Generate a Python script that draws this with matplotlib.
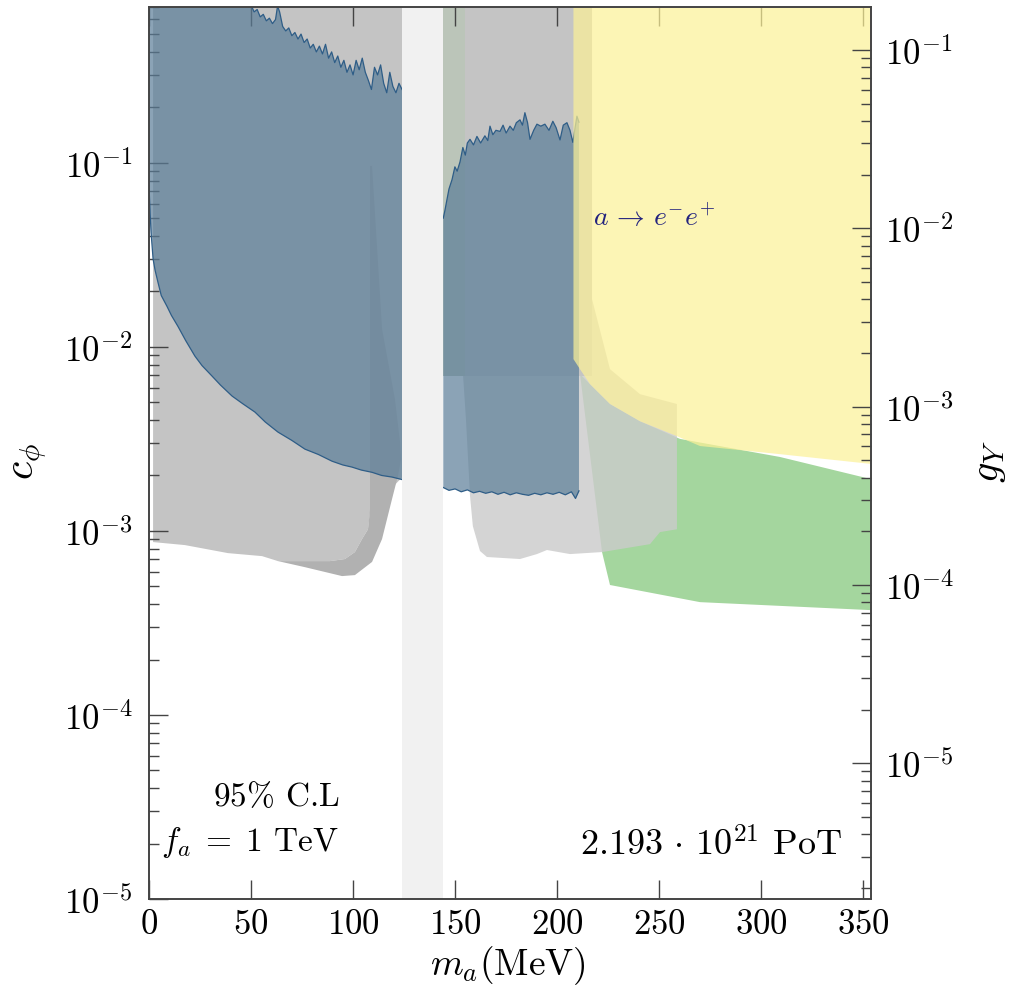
import numpy as np
import matplotlib
matplotlib.use('Agg')
import matplotlib.pyplot as plt
from matplotlib.ticker import FixedLocator, FixedFormatter, LogLocator, NullFormatter

plt.rcParams['mathtext.fontset'] = 'cm'
plt.rcParams['font.family'] = ['cmr10', 'DejaVu Serif']
plt.rcParams['axes.unicode_minus'] = False

# ---------------- data (m_a in MeV, c_phi) ----------------
x_ticks = [0, 50, 100, 150, 200, 250, 300, 350]
x_tick_labels = [r'$%d$' % v for v in x_ticks]
y_ticks = [1e-5, 1e-4, 1e-3, 1e-2, 1e-1]
y_tick_labels = [r'$10^{-5}$', r'$10^{-4}$', r'$10^{-3}$', r'$10^{-2}$', r'$10^{-1}$']
gY_ticks = [1e-5, 1e-4, 1e-3, 1e-2, 1e-1]
gY_tick_labels = [r'$10^{-5}$', r'$10^{-4}$', r'$10^{-3}$', r'$10^{-2}$', r'$10^{-1}$']

# pi0 veto band
pi0_band = [124.0, 144.2]

# main result (left part): noisy upper edge and lower edge
b1_upper_x = [0, 49.0, 50, 51.5, 53, 54.5, 56, 57.5, 59, 60.5, 62, 63, 64, 65.5, 67, 68.5, 70, 71.5, 73,
              74.5, 76, 77.5, 79, 80.5, 82, 83.5, 85, 86.5, 88, 89.5, 91, 92.5, 94, 95.5, 97, 98.5,
              100, 101.5, 103, 104.5, 106, 107.5, 109, 110.5, 112, 113.5, 115, 116.5, 118, 119.5,
              121, 122.5, 124.0]
b1_upper_c = [2.0, 2.0, 0.72, 0.66, 0.68, 0.62, 0.64, 0.59, 0.61, 0.57, 0.60, 0.71, 0.66, 0.55, 0.52,
              0.54, 0.49, 0.51, 0.47, 0.50, 0.45, 0.47, 0.42, 0.44, 0.40, 0.43, 0.39, 0.44, 0.37,
              0.40, 0.35, 0.38, 0.33, 0.36, 0.31, 0.34, 0.30, 0.36, 0.32, 0.37, 0.31, 0.28, 0.25,
              0.33, 0.30, 0.34, 0.27, 0.24, 0.31, 0.26, 0.24, 0.27, 0.25]
b1_lower_x = [0, 0.5, 1, 2, 3, 4.4, 6, 8.8, 11, 14.2, 18, 22.5, 26, 30.9, 35, 40.7, 46, 51.9, 57,
              63.2, 70, 76.4, 83, 89.7, 95, 99.5, 104, 109.3, 114, 119.1, 124.0]
b1_lower_c = [0.075, 0.055, 0.042, 0.030, 0.026, 0.0224, 0.019, 0.0166, 0.0148, 0.0129, 0.0108,
              0.0089, 0.0079, 0.00693, 0.0062, 0.0054, 0.0049, 0.00442, 0.0039, 0.00344, 0.0031,
              0.00278, 0.0026, 0.00239, 0.00228, 0.00222, 0.00214, 0.00208, 0.00200, 0.00196,
              0.00190]

# main result (right part)
b2_upper_x = [144.2, 145, 146, 147, 148.5, 149.9, 151, 152.4, 153.8, 155, 156, 157.3, 159, 160.7,
              162.5, 164.6, 166, 167.1, 168.5, 170, 172, 173.5, 175, 176.9, 178.5, 180, 181.8, 183,
              184.2, 185.5, 186.7, 188.5, 190.1, 192, 194, 196, 197.9, 199.5, 201.4, 203, 204.8,
              206.3, 207.7, 208.8, 209.7, 210.7]
b2_upper_c = [0.050, 0.055, 0.063, 0.072, 0.081, 0.095, 0.090, 0.101, 0.121, 0.110, 0.128, 0.134,
              0.125, 0.139, 0.128, 0.140, 0.132, 0.158, 0.142, 0.150, 0.148, 0.160, 0.145, 0.158,
              0.150, 0.165, 0.171, 0.160, 0.187, 0.165, 0.134, 0.150, 0.162, 0.158, 0.162, 0.150,
              0.168, 0.155, 0.133, 0.160, 0.165, 0.150, 0.129, 0.155, 0.179, 0.166]
b2_lower_x = [144.2, 147, 150, 153, 156, 159, 162, 165, 168, 171, 174, 177, 180, 183, 186, 189,
              192, 195, 198, 201, 204, 207, 209, 210.7]
b2_lower_c = [0.00172, 0.00166, 0.00169, 0.00163, 0.00167, 0.00161, 0.00164, 0.00160, 0.00163,
              0.00158, 0.00162, 0.00157, 0.00161, 0.00158, 0.00156, 0.00160, 0.00157, 0.00161,
              0.00158, 0.00162, 0.00157, 0.00163, 0.00150, 0.00165]

# existing bound, gray (left)
g1_x = [2.0, 2.0, 17.6, 38.7, 55.4, 63.2, 88.7, 96.0, 100.9, 104.4, 107.3, 108.5, 124.0, 124.0]
g1_c = [2.0, 8.69e-4, 8.37e-4, 7.57e-4, 7.29e-4, 6.85e-4, 6.85e-4, 7.03e-4, 7.67e-4, 9.03e-4,
        1.02e-3, 1.3e-3, 1.95e-3, 2.0]

# existing bound, darker gray spike
g2_x = [109.3, 114.2, 120.5, 123.0, 123.5, 122.0, 119.1, 114.2, 109.3, 100.9, 94.6, 76.4, 63.2,
        88.7, 96.0, 100.9, 104.4, 107.3, 108.3, 108.3]
g2_c = [0.096, 0.01247, 5.2e-3, 3.03e-3, 2.45e-3, 1.99e-3, 1.49e-3, 9.03e-4, 6.78e-4, 5.75e-4,
        5.68e-4, 6.35e-4, 6.85e-4, 6.85e-4, 7.03e-4, 7.67e-4, 9.03e-4, 1.02e-3, 1.3e-3, 0.096]

# existing bound, light gray (right)
g3_x = [150.9, 217.1, 217.1, 225.9, 240.6, 258.7, 258.7, 250.4, 245.5, 222.0, 206.3, 195.0, 190.1,
        181.8, 165.6, 162.2, 158.7, 157.3, 155.3, 152.4, 150.9]
g3_c = [2.0, 2.0, 0.01815, 7.56e-3, 5.53e-3, 4.89e-3, 1.02e-3, 9.85e-4, 8.47e-4, 7.67e-4, 7.48e-4,
        7.87e-4, 7.48e-4, 7.03e-4, 7.21e-4, 7.77e-4, 1.06e-3, 1.55e-3, 4.05e-3, 0.0125, 0.063]

# existing bound, gray (upper block)
g4_x = [144.2, 217.1, 217.1, 144.2]
g4_c = [2.0, 2.0, 6.95e-3, 6.95e-3]

# green bounds
green_strip_x = [144.2, 155.0, 155.0, 144.2]
green_strip_c = [2.0, 2.0, 6.95e-3, 6.95e-3]
green_x = [211.2, 222.0, 225.9, 270.0, 353.8, 353.8, 309.2, 260.2, 240.6, 225.9, 216.1]
green_c = [7.11e-3, 7.67e-4, 5.08e-4, 4.10e-4, 3.71e-4, 1.91e-3, 2.52e-3, 3.16e-3, 3.94e-3,
           4.89e-3, 6.27e-3]

# yellow: a -> e- e+
yellow_x = [208.0, 353.8, 353.8, 309.2, 270.0, 258.7, 240.6, 225.9, 216.1, 211.2, 208.0]
yellow_c = [2.0, 2.0, 2.31e-3, 2.61e-3, 2.89e-3, 3.27e-3, 3.94e-3, 4.89e-3, 6.27e-3, 7.56e-3,
            8.57e-3]

# ---------------- figure ----------------
fig = plt.figure(figsize=(10.11, 9.87), dpi=100)
ax = fig.add_axes([0.14738, 0.08815, 0.71414, 0.90374])
ax.set_yscale('log')
ax.set_xlim(0, 353.8)
ax.set_ylim(1e-5, 0.7015)

blue = '#5a7d98'
edge = '#2e5d87'

ax.fill(g1_x, g1_c, color='#c4c4c4', lw=0, zorder=1)
ax.fill(g2_x, g2_c, color='#b1b1b1', lw=0, zorder=1.1)
ax.fill(green_x, green_c, color='#a4d69e', lw=0, zorder=1.2)
ax.fill(g3_x, g3_c, color='#cbcbcb', alpha=0.82, lw=0, zorder=1.3)
ax.fill(g4_x, g4_c, color='#c4c4c4', lw=0, zorder=1.4)
ax.fill(green_strip_x, green_strip_c, color='#7fd070', alpha=0.12, lw=0, zorder=1.5)

b1x = list(b1_upper_x) + list(b1_lower_x[::-1])
b1c = list(b1_upper_c) + list(b1_lower_c[::-1])
ax.fill(b1x, b1c, color=blue, alpha=0.7, lw=0, zorder=1.6)
ax.plot(b1_upper_x[2:], b1_upper_c[2:], color=edge, lw=0.9, zorder=1.65)
ax.plot(b1_lower_x, b1_lower_c, color=edge, lw=0.9, zorder=1.65)

b2x = list(b2_upper_x) + list(b2_lower_x[::-1])
b2c = list(b2_upper_c) + list(b2_lower_c[::-1])
ax.fill(b2x, b2c, color=blue, alpha=0.7, lw=0, zorder=1.6)
ax.plot(b2_upper_x, b2_upper_c, color=edge, lw=0.9, zorder=1.65)
ax.plot(b2_lower_x, b2_lower_c, color=edge, lw=0.9, zorder=1.65)

ax.fill(yellow_x, yellow_c, color='#fcf197', alpha=0.71, lw=0, zorder=1.7)
ax.axvspan(pi0_band[0], pi0_band[1], color='#f1f1f1', lw=0, zorder=1.8)

# ticks
spine_col = '#444444'
for s in ax.spines.values():
    s.set_color(spine_col)
    s.set_linewidth(1.2)
    s.set_zorder(3)

ax.xaxis.set_major_locator(FixedLocator(x_ticks))
ax.xaxis.set_major_formatter(FixedFormatter(x_tick_labels))
ax.yaxis.set_major_locator(FixedLocator(y_ticks))
ax.yaxis.set_major_formatter(FixedFormatter(y_tick_labels))
ax.yaxis.set_minor_locator(LogLocator(base=10, subs=np.arange(2, 10), numticks=20))
ax.yaxis.set_minor_formatter(NullFormatter())
ax.tick_params(axis='both', which='major', direction='in', length=14, width=1.0,
               color=spine_col, labelsize=25)
ax.tick_params(axis='y', which='minor', direction='in', length=7, width=1.0, color=spine_col)
ax.tick_params(axis='x', top=True, bottom=True, pad=7)
ax.tick_params(axis='y', which='both', left=True, right=False, pad=12)

ax2 = ax.twinx()
ax2.set_yscale('log')
ax2.set_ylim(1.734e-6, 0.1742)
ax2.yaxis.set_major_locator(FixedLocator(gY_ticks))
ax2.yaxis.set_major_formatter(FixedFormatter(gY_tick_labels))
ax2.yaxis.set_minor_locator(LogLocator(base=10, subs=np.arange(2, 10), numticks=20))
ax2.yaxis.set_minor_formatter(NullFormatter())
ax2.tick_params(axis='y', which='major', direction='in', length=14, width=1.0,
                color=spine_col, labelsize=25, pad=10)
ax2.tick_params(axis='y', which='minor', direction='in', length=7, width=1.0, color=spine_col)
for s in ax2.spines.values():
    s.set_color(spine_col)
    s.set_linewidth(1.2)

# texts
ax.text(0.177, 0.1155, r'$95\%$ C.L', transform=ax.transAxes, ha='center', va='center',
        fontsize=24, zorder=5)
ax.text(0.140, 0.065, r'$f_a\;=\;1$ TeV', transform=ax.transAxes, ha='center', va='center',
        fontsize=24, zorder=5)
ax.text(0.779, 0.0617, r'$2.193\,\cdot\,10^{21}$ PoT', transform=ax.transAxes, ha='center',
        va='center', fontsize=26, zorder=5)
ax.text(0.699, 0.7646, r'$a\,\rightarrow\,e^{-}e^{+}$', transform=ax.transAxes, ha='center',
        va='center', fontsize=20, color='#23237e', zorder=5)

fig.text(30 / 1011, 1 - 462 / 987, r'$c_\phi$', rotation=90, ha='center', va='center', fontsize=30)
fig.text(990 / 1011, 1 - 462 / 987, r'$g_Y$', rotation=90, ha='center', va='center', fontsize=29)
fig.text(508 / 1011, 1 - 966 / 987, r'$m_a(\mathrm{MeV})$', ha='center', va='center', fontsize=27)

fig.savefig('out.png', dpi=100)
